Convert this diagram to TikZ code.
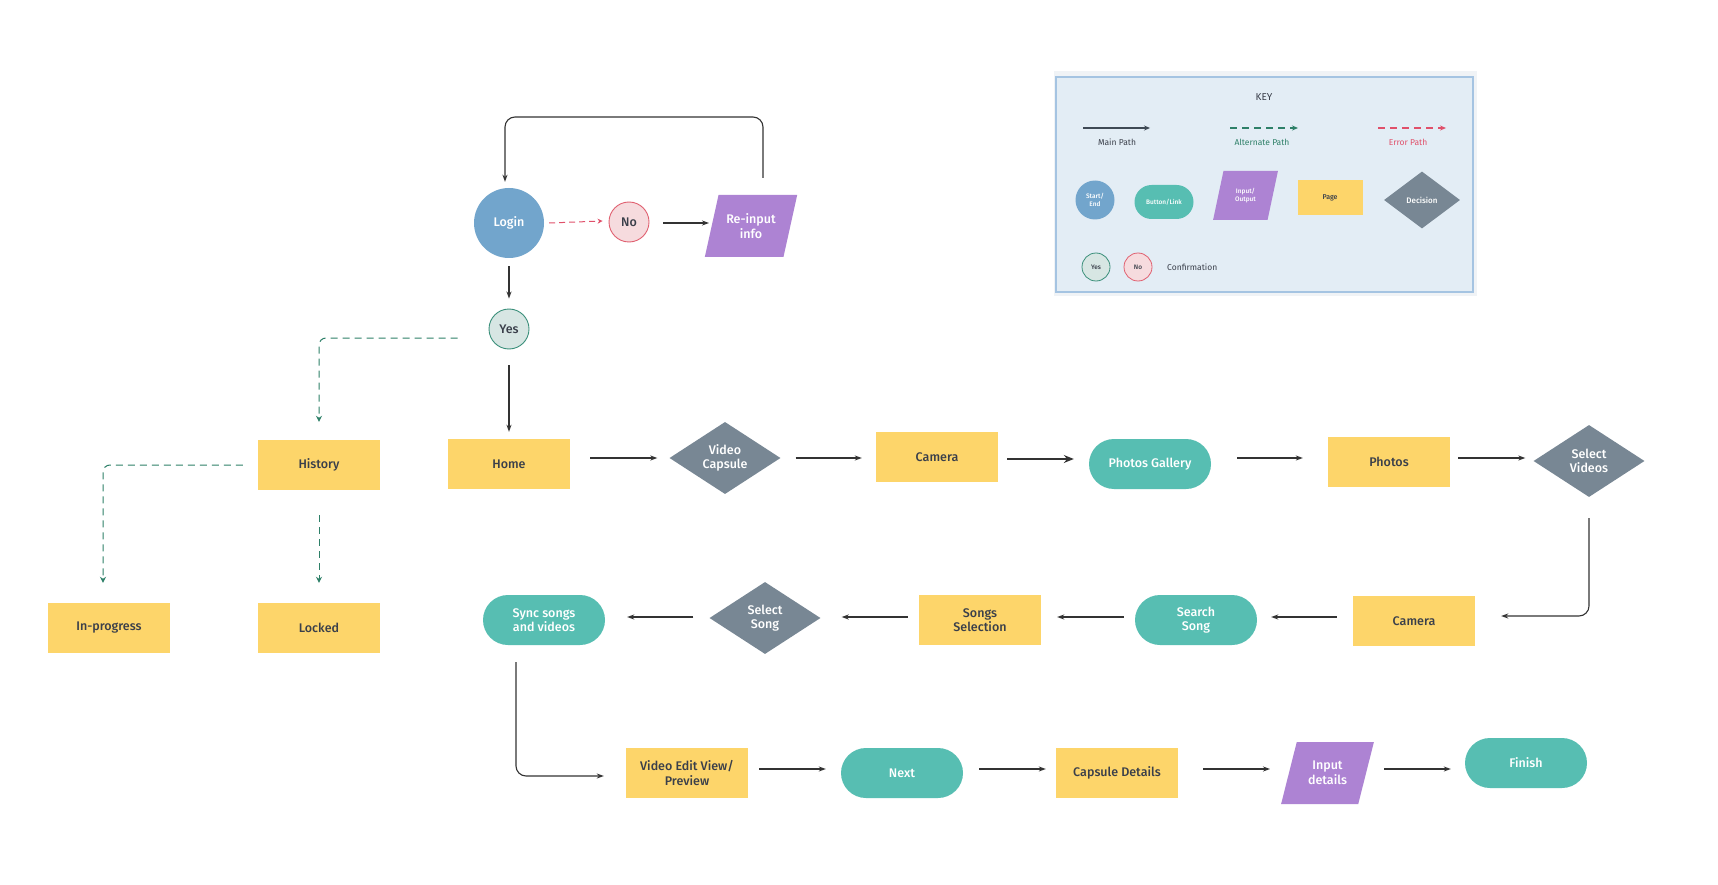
\documentclass[tikz,border=0pt]{standalone}
\usepackage{fontspec}
\setmainfont{Fira Sans}[BoldFont={Fira Sans Medium}]
\usetikzlibrary{shapes.geometric,arrows.meta}
\definecolor{cyellow}{HTML}{FDD56A}
\definecolor{cteal}{HTML}{57BEB2}
\definecolor{cpurple}{HTML}{AD83D3}
\definecolor{cgray}{HTML}{788794}
\definecolor{cblue}{HTML}{72A5CC}
\definecolor{ctext}{HTML}{3A3F4A}
\definecolor{cline}{HTML}{333333}
\definecolor{calt}{HTML}{2E8068}
\definecolor{cerr}{HTML}{E0506A}
\definecolor{cyesfill}{HTML}{D7E6E3}
\definecolor{cyesdraw}{HTML}{3A8F7A}
\definecolor{cnofill}{HTML}{F6DBDE}
\definecolor{cnodraw}{HTML}{E06070}
\definecolor{ckeyfill}{HTML}{E3EDF5}
\definecolor{ckeydraw}{HTML}{A5C4E2}
\definecolor{ckeyout}{HTML}{F0F3F6}
\definecolor{ckeyline}{HTML}{3F4A55}
\newcommand{\lbl}{\bfseries\fontsize{12.5}{14.5}\selectfont}
\newcommand{\klbl}[1]{\bfseries\fontsize{#1}{#1}\selectfont}
\newcommand{\krlbl}[1]{\fontsize{#1}{#1}\selectfont}
\tikzset{
  page/.style={rectangle, fill=cyellow, minimum width=122pt, minimum height=50pt, inner sep=0pt, text=ctext, font=\lbl, align=center},
  btn/.style={rectangle, rounded corners=25pt, fill=cteal, minimum width=122pt, minimum height=50pt, inner sep=0pt, text=white, font=\lbl, align=center},
  dec/.style={diamond, fill=cgray, minimum width=111pt, minimum height=72pt, inner sep=0pt, text=white, font=\lbl, align=center},
  io/.style={trapezium, trapezium left angle=67, trapezium right angle=113, trapezium stretches=true, fill=cpurple, minimum width=93pt, minimum height=62pt, inner sep=0pt, text=white, font=\lbl, align=center},
  yesc/.style={circle, fill=cyesfill, draw=cyesdraw, line width=0.9pt, minimum size=40pt, inner sep=0pt, text=ctext, font=\lbl},
  noc/.style={circle, fill=cnofill, draw=cnodraw, line width=0.9pt, minimum size=40pt, inner sep=0pt, text=ctext, font=\lbl},
  arr/.style={draw=cline, line width=1.1pt, -{Stealth[length=7pt,width=5pt]}},
  bigarr/.style={draw=cline, line width=1.2pt, -{Stealth[length=10pt,width=8pt]}},
  altarr/.style={draw=calt, line width=1pt, dash pattern=on 7pt off 5pt, -{Stealth[length=6pt,width=6pt]}},
  errarr/.style={draw=cerr, line width=1pt, dash pattern=on 6pt off 4pt, -{Stealth[length=5pt,width=5pt]}},
}
\begin{document}
\begin{tikzpicture}[x=1pt,y=-1pt]
\useasboundingbox[fill=white] (0,0) rectangle (1718,885);

% ---------- KEY panel ----------
\fill[ckeyout] (1054,71) rectangle (1477,296);
\draw[fill=ckeyfill, draw=ckeydraw, line width=1.2pt] (1056,77) rectangle (1473,292);
\node[text=ctext, font=\krlbl{10}] (keyt) at (1264,97) {KEY};
\coordinate (km1) at (1083,128);
\coordinate (km2) at (1150,128);
\draw[draw=ckeyline, line width=1.3pt, -{Stealth[length=6pt,width=5pt]}] (km1) -- (km2);
\node[text=ctext, font=\krlbl{8.5}] (kmain) at (1117,142) {Main Path};
\coordinate (ka1) at (1230,128);
\coordinate (ka2) at (1298,128);
\draw[draw=calt, line width=1.3pt, dash pattern=on 7pt off 5pt, -{Stealth[length=6pt,width=5pt]}] (ka1) -- (ka2);
\node[text=calt, font=\krlbl{8.5}] (kalt) at (1262,142) {Alternate Path};
\coordinate (ke1) at (1378,128);
\coordinate (ke2) at (1446,128);
\draw[draw=cerr, line width=1.3pt, dash pattern=on 7pt off 5pt, -{Stealth[length=6pt,width=5pt]}] (ke1) -- (ke2);
\node[text=cerr, font=\krlbl{8.5}] (kerr) at (1408,142) {Error Path};
\node[circle, fill=cblue, minimum size=39pt, inner sep=0pt, text=white, font=\klbl{6.5}, align=center] (kstart) at (1095,200) {Start/\\[1pt]End};
\node[rectangle, rounded corners=17pt, fill=cteal, minimum width=59pt, minimum height=34pt, inner sep=0pt, text=white, font=\klbl{6.5}] (kbtn) at (1164,202) {Button/Link};
\node[trapezium, trapezium left angle=71, trapezium right angle=109, trapezium stretches=true, fill=cpurple, minimum width=65pt, minimum height=49pt, inner sep=0pt, text=white, font=\klbl{6.5}, align=center] (kio) at (1245.5,195.5) {Input/\\[1pt]Output};
\node[rectangle, fill=cyellow, minimum width=65pt, minimum height=35pt, inner sep=0pt, text=ctext, font=\klbl{7}] (kpage) at (1330,198) {Page};
\node[diamond, fill=cgray, minimum width=76pt, minimum height=57pt, inner sep=0pt, text=white, font=\klbl{8}] (kdec) at (1422,200) {Decision};
\node[yesc, minimum size=28pt, font=\klbl{6.5}, line width=0.8pt] (kyes) at (1096,267) {Yes};
\node[noc, minimum size=28pt, font=\klbl{6.5}, line width=0.8pt] (kno) at (1138,267) {No};
\node[anchor=west, text=ctext, font=\krlbl{8.5}, inner sep=0pt] (kconf) at (1167,267) {Confirmation};

% ---------- Nodes ----------
\node[circle, fill=cblue, minimum size=70pt, inner sep=0pt, text=white, font=\lbl] (login) at (509,223) {Login};
\node[noc] (no) at (629,222) {No};
\node[io] (reinput) at (751,226) {Re-input\\info};
\node[yesc] (yes) at (509,329) {Yes};

\node[page] (history) at (319,465) {History};
\node[page] (inprog) at (109,628) {In-progress};
\node[page] (locked) at (319,628) {Locked};

\node[page] (home) at (509,464) {Home};
\node[dec] (vc) at (725,458) {Video\\Capsule};
\node[page] (camera) at (937,457) {Camera};
\node[btn] (pg) at (1150,464) {Photos Gallery};
\node[page] (photos) at (1389,462) {Photos};
\node[dec] (sv) at (1589,461) {Select\\Videos};

\node[page] (camera2) at (1414,621) {Camera};
\node[btn] (search) at (1196,620) {Search\\Song};
\node[page] (songsel) at (980,620) {Songs\\Selection};
\node[dec] (ss) at (765,618) {Select\\Song};
\node[btn] (sync) at (544,620) {Sync songs\\and videos};

\node[page] (ve) at (687,773) {Video Edit View/\\Preview};
\node[btn] (next) at (902,773) {Next};
\node[page] (cd) at (1117,773) {Capsule Details};
\node[io] (input) at (1327.5,773) {Input\\details};
\node[btn] (finish) at (1526,763) {Finish};

% ---------- Connectors ----------
\draw[arr, rounded corners=10pt] ([xshift=12pt,yshift=48pt]reinput.center) -- ++(0,-61) -| ([xshift=-4pt,yshift=6pt]login.north);
\draw[errarr] ([xshift=5pt]login.east) -- ([xshift=-6pt,yshift=1pt]no.west);
\draw[arr] ([xshift=14pt,yshift=-1pt]no.east) -- ([xshift=-42pt,yshift=3pt]reinput.center);
\draw[arr] ([yshift=-8pt]login.south) -- ([yshift=10pt]yes.north);
\draw[arr] ([yshift=-16pt]yes.south) -- ([yshift=7pt]home.north);
\draw[altarr, rounded corners=7pt] ([xshift=-31pt,yshift=-9pt]yes.west) -| ([yshift=18pt]history.north);
\draw[altarr, rounded corners=7pt] ([xshift=-15pt]history.west) -| ([xshift=-6pt,yshift=20pt]inprog.north);
\draw[altarr] ([yshift=-25pt]history.south) -- ([yshift=20pt]locked.north);

\draw[arr] ([xshift=20pt,yshift=6pt]home.east) -- ([xshift=-12pt]vc.west);
\draw[arr] ([xshift=15pt]vc.east) -- ([xshift=-14pt,yshift=-1pt]camera.west);
\draw[bigarr] ([xshift=9pt,yshift=-2pt]camera.east) -- ([xshift=-15pt,yshift=5pt]pg.west);
\draw[arr] ([xshift=26pt,yshift=6pt]pg.east) -- ([xshift=-25pt,yshift=4pt]photos.west);
\draw[arr] ([xshift=8pt,yshift=4pt]photos.east) -- ([xshift=-8pt,yshift=3pt]sv.west);
\draw[arr, rounded corners=10pt] ([yshift=-21pt]sv.south) |- ([xshift=26pt,yshift=5pt]camera2.east);
\draw[arr] ([xshift=-16pt,yshift=4pt]camera2.west) -- ([xshift=14pt,yshift=3pt]search.east);
\draw[arr] ([xshift=-11pt,yshift=3pt]search.west) -- ([xshift=16pt,yshift=3pt]songsel.east);
\draw[arr] ([xshift=-11pt,yshift=3pt]songsel.west) -- ([xshift=21pt,yshift=1pt]ss.east);
\draw[arr] ([xshift=-16pt,yshift=1pt]ss.west) -- ([xshift=22pt,yshift=3pt]sync.east);
\draw[arr, rounded corners=10pt] ([xshift=-28pt,yshift=-17pt]sync.south) |- ([xshift=-22pt,yshift=-3pt]ve.west);
\draw[arr] ([xshift=11pt,yshift=4pt]ve.east) -- ([xshift=-15pt,yshift=4pt]next.west);
\draw[arr] ([xshift=16pt,yshift=4pt]next.east) -- ([xshift=-10pt,yshift=4pt]cd.west);
\draw[arr] ([xshift=25pt,yshift=4pt]cd.east) -- ([xshift=-57.5pt,yshift=4pt]input.center);
\draw[arr] ([xshift=56.5pt,yshift=4pt]input.center) -- ([xshift=-14pt,yshift=-6pt]finish.west);
\end{tikzpicture}
\end{document}
